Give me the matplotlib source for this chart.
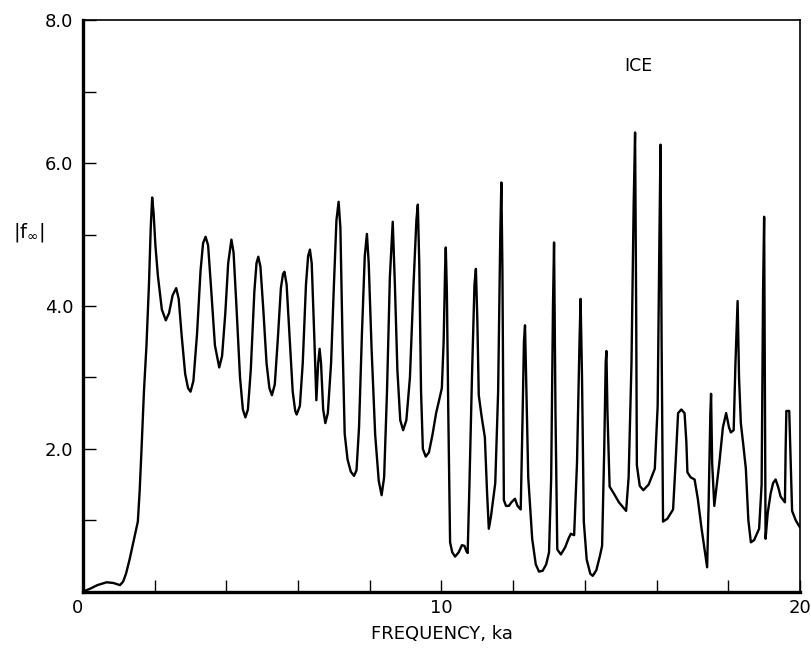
import matplotlib
matplotlib.use("Agg")
import matplotlib.pyplot as plt
from matplotlib.ticker import MultipleLocator, FixedLocator

# digitized |f_inf| vs ka for ice
freq_ka = [
    0.0, 0.2, 0.4, 0.66, 0.85, 1.03, 1.12, 1.2, 1.3, 1.4, 1.53, 1.58, 1.63, 1.70, 1.77, 1.84, 1.89,
    1.93, 1.97, 2.02, 2.09, 2.2, 2.31, 2.40, 2.50, 2.60, 2.67, 2.75, 2.85, 2.93, 3.00, 3.08, 3.18,
    3.28, 3.35, 3.42, 3.49, 3.58, 3.68, 3.80, 3.88, 3.97, 4.05, 4.14, 4.20, 4.28, 4.38, 4.46, 4.53,
    4.60, 4.68, 4.78, 4.84, 4.89, 4.95, 5.03, 5.12, 5.20, 5.27, 5.35, 5.43, 5.52, 5.58, 5.62, 5.68,
    5.76, 5.85, 5.92, 5.96, 6.05, 6.13, 6.22, 6.28, 6.33, 6.38, 6.45, 6.51, 6.56, 6.60, 6.64, 6.70,
    6.76, 6.83, 6.92, 7.0, 7.07, 7.13, 7.18, 7.24, 7.30, 7.38, 7.47, 7.56, 7.63, 7.70, 7.78, 7.86,
    7.92, 7.97, 8.05, 8.15, 8.25, 8.33, 8.40, 8.48, 8.56, 8.64, 8.70, 8.77, 8.85, 8.93, 9.02, 9.12,
    9.22, 9.30, 9.34, 9.38, 9.43, 9.48, 9.56, 9.65, 9.75, 9.85, 9.92, 10.01, 10.06, 10.10, 10.12,
    10.15, 10.19, 10.24, 10.30, 10.38, 10.48, 10.57, 10.64, 10.70, 10.73, 10.78, 10.85, 10.92, 10.96,
    11.00, 11.04, 11.12, 11.21, 11.27, 11.32, 11.38, 11.50, 11.58, 11.64, 11.67, 11.70, 11.74, 11.80,
    11.88, 11.95, 12.05, 12.12, 12.21, 12.26, 12.30, 12.33, 12.36, 12.42, 12.53, 12.63, 12.72, 12.82,
    12.92, 13.00, 13.06, 13.11, 13.14, 13.18, 13.23, 13.33, 13.45, 13.55, 13.61, 13.70, 13.78, 13.85,
    13.88, 13.92, 13.97, 14.05, 14.15, 14.22, 14.32, 14.42, 14.48, 14.54, 14.58, 14.60, 14.63, 14.69,
    14.80, 14.95, 15.15, 15.22, 15.30, 15.36, 15.40, 15.43, 15.45, 15.53, 15.63, 15.78, 15.95, 16.03,
    16.08, 16.11, 16.14, 16.18, 16.30, 16.46, 16.53, 16.60, 16.69, 16.78, 16.83, 16.86, 16.95, 17.06,
    17.15, 17.25, 17.34, 17.41, 17.45, 17.50, 17.52, 17.55, 17.61, 17.75, 17.85, 17.94, 18.02, 18.07,
    18.15, 18.20, 18.26, 18.30, 18.35, 18.42, 18.49, 18.56, 18.63, 18.72, 18.86, 18.93, 18.97, 19.00,
    19.02, 19.04, 19.10, 19.18, 19.25, 19.32, 19.40, 19.46, 19.58, 19.60, 19.62, 19.70, 19.73, 19.78,
    19.88, 19.96, 20.0,
]
f_inf = [
    0.0, 0.04, 0.09, 0.13, 0.12, 0.09, 0.14, 0.25, 0.45, 0.68, 0.98, 1.4, 1.96, 2.8, 3.44, 4.3, 5.1,
    5.52, 5.3, 4.85, 4.42, 3.95, 3.80, 3.9, 4.15, 4.25, 4.1, 3.6, 3.05, 2.85, 2.80, 2.95, 3.6,
    4.5, 4.88, 4.97, 4.85, 4.2, 3.45, 3.14, 3.3, 3.9, 4.6, 4.93, 4.75, 4.0, 3.0, 2.55, 2.44,
    2.55, 3.1, 4.2, 4.6, 4.69, 4.55, 3.95, 3.2, 2.85, 2.75, 2.9, 3.5, 4.25, 4.45, 4.48, 4.3,
    3.6, 2.8, 2.53, 2.48, 2.6, 3.2, 4.3, 4.7, 4.79, 4.6, 3.6, 2.68, 3.2, 3.40, 3.2, 2.55,
    2.36, 2.5, 3.2, 4.3, 5.2, 5.46, 5.1, 3.5, 2.21, 1.85, 1.68, 1.62, 1.7, 2.3, 3.6, 4.7,
    5.01, 4.6, 3.4, 2.2, 1.55, 1.35, 1.6, 2.8, 4.4, 5.18, 4.3, 3.1, 2.4, 2.26, 2.4, 3.0,
    4.3, 5.2, 5.42, 4.6, 2.8, 2.0, 1.89, 1.95, 2.2, 2.5, 2.65, 2.85, 3.5, 4.5, 4.82,
    4.2, 2.5, 0.69, 0.55, 0.49, 0.55, 0.65, 0.64, 0.56, 0.54, 1.5, 3.0, 4.3, 4.52,
    3.8, 2.75, 2.45, 2.16, 1.4, 0.88, 1.05, 1.52, 2.8, 5.0, 5.73, 4.5, 1.28, 1.2,
    1.20, 1.25, 1.30, 1.2, 1.15, 2.4, 3.5, 3.73, 3.0, 1.6, 0.74, 0.38, 0.28, 0.29,
    0.38, 0.55, 1.6, 4.0, 4.89, 2.5, 0.59, 0.52, 0.62, 0.75, 0.81, 0.79, 1.8, 3.5,
    4.10, 3.0, 0.98, 0.45, 0.25, 0.22, 0.3, 0.5, 0.64, 2.0, 3.2, 3.37, 2.5, 1.47,
    1.38, 1.25, 1.13, 1.6, 3.2, 5.4, 6.43, 4.0, 1.77, 1.48, 1.42, 1.5, 1.72, 2.6,
    5.0, 6.26, 3.5, 0.98, 1.02, 1.15, 1.8, 2.50, 2.55, 2.50, 2.1, 1.67, 1.6, 1.57,
    1.3, 0.9, 0.59, 0.34, 1.2, 2.5, 2.77, 1.8, 1.20, 1.8, 2.3, 2.50, 2.3, 2.23,
    2.26, 3.2, 4.07, 3.0, 2.36, 2.05, 1.72, 1.0, 0.69, 0.72, 0.88, 1.5, 4.2, 5.25,
    3.0, 0.74, 1.1, 1.37, 1.52, 1.57, 1.45, 1.33, 1.25, 2.0, 2.53, 2.53, 2.0, 1.13,
    1.0, 0.93, 0.90,
]

x_tick_labels = ["0", "10", "20"]
y_tick_labels = ["", "2.0", "4.0", "6.0", "8.0"]

fig = plt.figure(figsize=(8.12, 6.49), dpi=100)
ax = fig.add_axes([0.1022, 0.0885, 0.883, 0.880])

ax.plot(freq_ka, f_inf, color="black", linewidth=1.7, solid_joinstyle="round")

ax.set_xlim(0, 20)
ax.set_ylim(0, 8)

ax.xaxis.set_major_locator(FixedLocator([0, 10, 20]))
ax.xaxis.set_minor_locator(MultipleLocator(2))
ax.set_xticklabels(x_tick_labels)
ax.yaxis.set_major_locator(FixedLocator([0, 2, 4, 6, 8]))
ax.yaxis.set_minor_locator(MultipleLocator(1))
ax.set_yticklabels(y_tick_labels)

ax.tick_params(which="both", direction="in", length=9, width=1.0, labelsize=13)
ax.tick_params(axis="x", pad=5)
ax.tick_params(axis="y", pad=7)
ax.get_xticklabels()[0].set_horizontalalignment("right")

for side in ("left", "bottom"):
    ax.spines[side].set_linewidth(2.4)
for side in ("top", "right"):
    ax.spines[side].set_linewidth(1.2)

ax.set_xlabel("FREQUENCY, ka", fontsize=13, labelpad=6)
fig.text(0.036, 1 - 233 / 649, r"|f$_\infty$|", fontsize=14, ha="center", va="center")
ax.text(15.5, 7.36, "ICE", fontsize=12.5, ha="center", va="center")

fig.savefig("out.png", dpi=100)
